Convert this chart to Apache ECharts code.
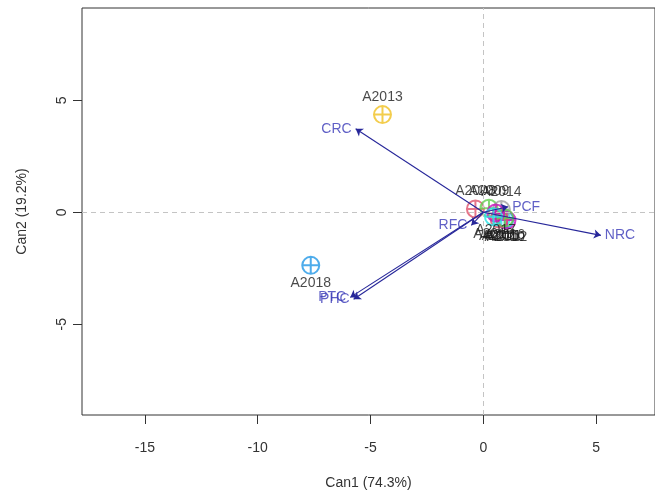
<!DOCTYPE html>
<html>
<head>
<meta charset="utf-8">
<script src="https://cdn.jsdelivr.net/npm/echarts@6/dist/echarts.min.js"></script>
<style>
  html, body { margin: 0; padding: 0; background: #fff; }
  #chart { width: 655px; height: 495px; }
</style>
</head>
<body>
<div id="chart"></div>
<script>
// Group centroids in canonical space
const groups = ['A2008','A2009','A2010','A2011','A2012','A2013','A2014','A2015','A2016','A2017','A2018','A2019'];
const can1   = [-0.35, 0.25, 0.95, 0.80, 1.05, -4.47, 0.80, 0.70, 0.95, 0.55, -7.65, 0.45];
const can2   = [ 0.15, 0.18, -0.32, -0.28, -0.35, 4.36, 0.12, -0.30, -0.25, -0.03, -2.37, -0.20];
const groupColors = ['#DF536B','#61D04F','#2297E6','#28E2E5','#CD0BBC','#F0C020','#9E9E9E','#DF536B','#61D04F','#CD0BBC','#2297E6','#28E2E5'];

// Structure vectors (variable loadings)
const vecNames = ['CRC','NRC','PCF','RFC','PTC','PHC'];
const vecX     = [-5.66, 5.21, 1.10, -0.53, -5.90, -5.75];
const vecY     = [ 3.73, -1.03, 0.25, -0.58, -3.80, -3.88];

// Tick labels
const xTicks = [-15, -10, -5, 0, 5];
const yTicks = [-5, 0, 5];

const xLabel = 'Can1 (74.3%)';
const yLabel = 'Can2 (19.2%)';

const circlePlus = 'path://M2,12A10,10,0,1,1,22,12A10,10,0,1,1,2,12ZM12,2L12,22M2,12L22,12';
const FONT = 'Liberation Sans, Arial, sans-serif';

const centroidData = groups.map((g, i) => ({
  name: g,
  value: [can1[i], can2[i]],
  itemStyle: { color: 'rgba(0,0,0,0)', borderColor: groupColors[i], borderWidth: 2 },
  label: { position: can2[i] >= 0 ? 'top' : 'bottom' }
}));

const arrowLines = vecNames.map((n, i) => [
  { coord: [0, 0] },
  { coord: [vecX[i], vecY[i]] }
]);

const vecLabelData = vecNames.map((n, i) => ({
  name: n,
  value: [vecX[i], vecY[i]],
  label: { position: vecX[i] >= 0 ? 'right' : 'left' }
}));

const chart = echarts.init(document.getElementById('chart'), null, { renderer: 'canvas' });
chart.setOption({
  animation: false,
  backgroundColor: '#fff',
  textStyle: { fontFamily: FONT },
  grid: {
    left: 82, top: 8, width: 574, height: 408,
    show: true, borderColor: '#333', borderWidth: 1, backgroundColor: 'transparent'
  },
  xAxis: {
    type: 'value', min: -17.79, max: 7.61,
    splitLine: { show: false },
    axisLine: { show: false, onZero: false },
    axisTick: { show: true, inside: false, length: 9, customValues: xTicks, lineStyle: { color: '#333' } },
    axisLabel: { customValues: xTicks, margin: 26, color: '#333', fontSize: 14, fontFamily: FONT },
    name: xLabel, nameLocation: 'middle', nameGap: 61,
    nameTextStyle: { color: '#333', fontSize: 14, fontFamily: FONT }
  },
  yAxis: {
    type: 'value', min: -9.05, max: 9.12,
    splitLine: { show: false },
    axisLine: { show: false, onZero: false },
    axisTick: { show: true, inside: false, length: 9, customValues: yTicks, lineStyle: { color: '#333' } },
    axisLabel: { customValues: yTicks, margin: 13, rotate: 90, color: '#333', fontSize: 14, fontFamily: FONT },
    name: yLabel, nameLocation: 'middle', nameGap: 53, nameRotate: 90,
    nameTextStyle: { color: '#333', fontSize: 14, fontFamily: FONT }
  },
  series: [
    {
      name: 'zero',
      type: 'scatter',
      data: [],
      silent: true,
      markLine: {
        silent: true,
        symbol: 'none',
        label: { show: false },
        lineStyle: { color: '#c4c4c4', type: [5, 4], width: 1 },
        data: [{ xAxis: 0 }, { yAxis: 0 }]
      }
    },
    {
      name: 'vectors',
      type: 'scatter',
      data: vecLabelData,
      symbolSize: 0,
      silent: true,
      label: { show: true, formatter: '{b}', color: '#3838b8', fontSize: 14, fontFamily: FONT, distance: 4 },
      markLine: {
        silent: true,
        symbol: ['none', 'arrow'],
        symbolSize: 7,
        label: { show: false },
        lineStyle: { color: '#27279a', type: 'solid', width: 1.1 },
        data: arrowLines
      },
      z: 3
    },
    {
      name: 'centroids',
      type: 'scatter',
      data: centroidData,
      symbol: circlePlus,
      symbolSize: 17,
      silent: true,
      label: { show: true, formatter: '{b}', color: '#1a1a1a', fontSize: 14, fontFamily: FONT, distance: 1 },
      z: 4
    }
  ]
});
</script>
</body>
</html>
